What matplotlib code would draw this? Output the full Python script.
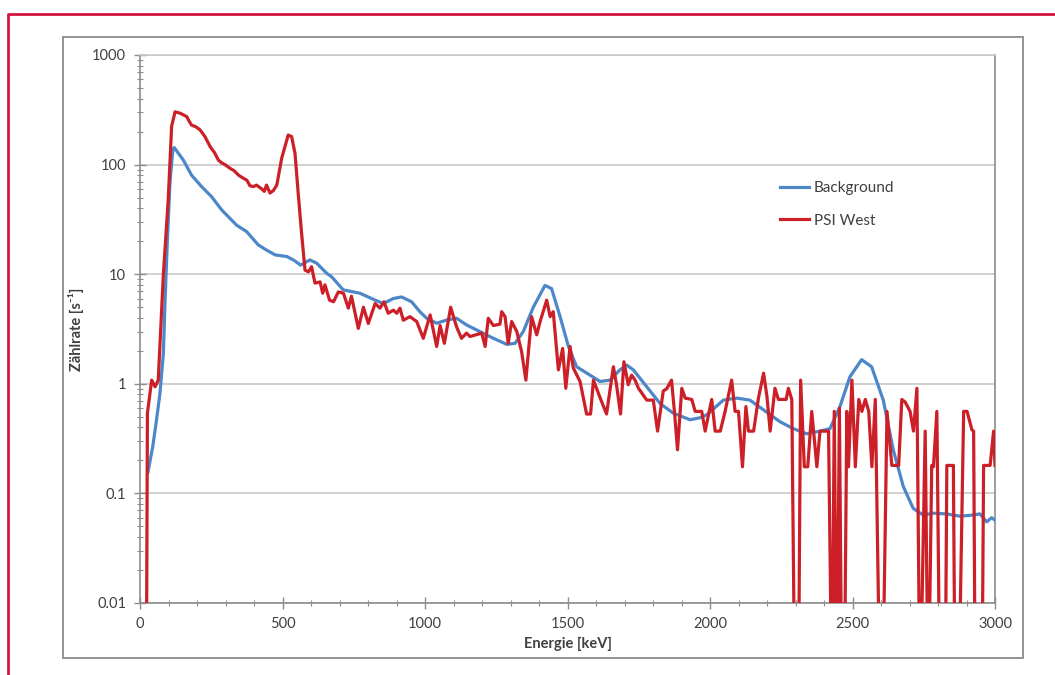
import matplotlib
matplotlib.use("Agg")
import matplotlib.pyplot as plt
from matplotlib.lines import Line2D
from matplotlib.patches import Rectangle
from matplotlib.ticker import FixedLocator, LogLocator, NullFormatter, MultipleLocator

plt.rcParams["font.family"] = ["Lato", "DejaVu Sans"]

# Background spectrum (energy in keV, count rate in 1/s)
bg_energy = [28, 45, 58, 70, 82, 88, 96, 105, 115, 120, 152, 181, 216, 251, 287,
             339, 374, 415, 444, 474, 515, 538, 564, 596, 620, 655, 672, 713, 772,
             825, 854, 889, 918, 953, 982, 1006, 1041, 1076, 1111, 1146, 1193,
             1240, 1287, 1316, 1345, 1380, 1421, 1444, 1474, 1503, 1532, 1579,
             1614, 1649, 1684, 1708, 1731, 1778, 1825, 1871, 1930, 1965, 1988,
             2047, 2094, 2140, 2187, 2246, 2292, 2339, 2386, 2421, 2456, 2491,
             2532, 2567, 2608, 2643, 2678, 2713, 2748, 2783, 2830, 2877, 2912,
             2947, 2971, 2988, 3000]
bg_rate = [0.157, 0.27, 0.47, 0.82, 1.9, 5.8, 20, 68, 135, 143, 110, 80, 63, 51,
           38.5, 28, 24.5, 18.5, 16.6, 15, 14.5, 13.5, 12.1, 13.5, 12.6, 10.2, 9.5,
           7.2, 6.7, 5.8, 5.4, 6.0, 6.2, 5.6, 4.55, 3.96, 3.57, 3.82, 3.96, 3.44,
           2.99, 2.6, 2.29, 2.34, 3.0, 5.0, 7.9, 7.4, 4.1, 2.2, 1.43, 1.2, 1.05,
           1.08, 1.34, 1.48, 1.34, 0.94, 0.66, 0.54, 0.47, 0.49, 0.52, 0.71, 0.74,
           0.71, 0.58, 0.45, 0.39, 0.35, 0.37, 0.39, 0.62, 1.16, 1.66, 1.43, 0.71,
           0.25, 0.116, 0.073, 0.0635, 0.066, 0.065, 0.062, 0.063, 0.065, 0.055,
           0.06, 0.057]

# PSI West spectrum (0.001 = empty bin, drawn off the bottom)
psi_energy = [22, 26, 41, 53, 64, 82, 99, 111, 123, 140, 164, 172, 181, 195, 211,
              228, 246, 262, 275, 286, 298, 316, 330, 346, 363, 375, 386, 398, 409,
              420, 427, 436, 444, 456, 468, 480, 497, 520, 532, 544, 555,
              567, 579, 591, 602, 614, 632, 641, 649, 665, 679, 696, 714, 731, 742,
              766, 784, 801, 825, 842, 856, 871, 889, 901, 912, 924, 947, 971, 994,
              1018, 1041, 1053, 1068, 1090, 1111, 1128, 1146, 1158, 1199, 1211,
              1222, 1240, 1263, 1269, 1281, 1292, 1304, 1322, 1339, 1354, 1374,
              1392, 1404, 1427, 1439, 1450, 1468, 1483, 1494, 1509, 1520, 1544,
              1567, 1581, 1591, 1614, 1637, 1661, 1672, 1686, 1698, 1713, 1725,
              1737, 1749, 1778, 1801, 1816, 1836, 1848, 1865, 1876, 1886, 1901,
              1913, 1936, 1948, 1971, 1983, 2006, 2018, 2036, 2053, 2076, 2088,
              2100, 2114, 2126, 2135, 2153, 2170, 2188, 2200, 2211, 2228, 2240,
              2267, 2275, 2287, 2298, 2310, 2318, 2331, 2343, 2357, 2375, 2386,
              2416, 2428, 2436, 2445, 2454, 2463, 2471, 2480, 2486, 2498, 2510,
              2522, 2533, 2545, 2557, 2568, 2580, 2597, 2605, 2621, 2638, 2662,
              2673, 2685, 2702, 2714, 2726, 2737, 2755, 2766, 2778, 2784, 2796,
              2807, 2825, 2831, 2854, 2860, 2872, 2890, 2902, 2919, 2925, 2931,
              2954, 2960, 2983, 2995, 3000]
psi_rate = [0.001, 0.54, 1.08, 0.94, 1.08, 10, 47.5, 224, 303, 295, 274, 250, 229,
            222, 207, 180, 146, 128, 110, 104, 100, 92.5, 88, 80, 75, 72, 64, 63,
            65, 62, 60, 57, 65, 55, 58, 65, 114, 186, 180, 126,
            55, 23.6, 10.9, 10.5, 11.7, 8.3, 8.5, 6.7, 8.0, 5.8, 5.6, 6.9, 6.7, 4.9,
            6.3, 3.2, 5.0, 3.55, 5.4, 4.9, 5.6, 4.4, 4.7, 4.4, 4.9, 3.8, 4.1, 3.7,
            2.6, 4.25, 2.19, 3.4, 2.34, 5.0, 3.3, 2.6, 2.9, 2.7, 2.9, 2.19, 3.96,
            3.4, 3.5, 4.55, 4.1, 2.34, 3.7, 3.0, 1.96, 1.08, 4.1, 2.8, 3.7, 5.8,
            4.1, 4.55, 1.34, 2.1, 0.91, 2.19, 1.4, 1.05, 0.53, 0.53, 1.08, 0.75,
            0.53, 1.43, 0.98, 0.53, 1.59, 0.98, 1.2, 1.08, 0.91, 0.71, 0.71, 0.37,
            0.86, 0.9, 1.08, 0.53, 0.25, 0.91, 0.74, 0.72, 0.56, 0.56, 0.37, 0.72,
            0.37, 0.37, 0.56, 1.08, 0.56, 0.56, 0.175, 0.62, 0.37, 0.37, 0.74,
            1.25, 0.76, 0.37, 0.91, 0.72, 0.72, 0.91, 0.72, 0.001, 0.001, 1.08,
            0.175, 0.175, 0.56, 0.175, 0.37, 0.37, 0.001, 0.56, 0.001, 0.60, 0.001,
            0.001, 0.56, 0.175, 1.08, 0.175, 0.72, 0.56, 0.72, 0.56, 0.175, 0.72,
            0.001, 0.001, 0.56, 0.18, 0.18, 0.72, 0.68, 0.56, 0.37, 0.91, 0.001,
            0.37, 0.001, 0.18, 0.175, 0.56, 0.001, 0.001, 0.18, 0.18, 0.001, 0.001,
            0.56, 0.56, 0.38, 0.37, 0.001, 0.001, 0.18, 0.18, 0.37, 0.18]

y_ticks = [0.01, 0.1, 1, 10, 100, 1000]
y_tick_labels = ["0.01", "0.1", "1", "10", "100", "1000"]
x_ticks = [0, 500, 1000, 1500, 2000, 2500, 3000]

W, H = 1055, 675
fig = plt.figure(figsize=(W / 100, H / 100), dpi=100)
fig.patch.set_facecolor("white")

# outer red frame (cut off at right and bottom) and grey chart border
fig.add_artist(Line2D([8 / W, 8 / W, 1.0], [0.0, 1 - 14 / H, 1 - 14 / H],
                      transform=fig.transFigure, color="#D2163E", lw=2.0))
fig.add_artist(Rectangle((63 / W, 1 - 658 / H), 960 / W, 621 / H,
                         transform=fig.transFigure, fill=False,
                         edgecolor="#8a8a8a", lw=1.3))

ax = fig.add_axes([140 / W, 1 - 603 / H, 855 / W, 548 / H])
ax.set_yscale("log")
ax.set_xlim(0, 3000)
ax.set_ylim(0.01, 1000)

ax.plot(bg_energy, bg_rate, color="#4C87C9", lw=2.3, label="Background",
        solid_joinstyle="round", zorder=3)
ax.plot(psi_energy, psi_rate, color="#CC1F27", lw=2.3, label="PSI West",
        solid_joinstyle="round", zorder=4)

ax.yaxis.set_major_locator(FixedLocator(y_ticks))
ax.set_yticklabels(y_tick_labels)
ax.yaxis.set_minor_locator(LogLocator(base=10, subs=range(2, 10)))
ax.yaxis.set_minor_formatter(NullFormatter())
ax.set_xticks(x_ticks)
ax.xaxis.set_minor_locator(MultipleLocator(100))

ax.grid(True, which="major", axis="y", color="#c8c8c8", lw=1.2)
ax.set_axisbelow(True)

for side in ["left", "bottom", "right"]:
    ax.spines[side].set_color("#8c8c8c")
    ax.spines[side].set_linewidth(1.2)
ax.spines["top"].set_color("#c8c8c8")
ax.spines["top"].set_linewidth(1.2)

ax.tick_params(axis="both", which="major", direction="inout", length=8,
               width=1.0, color="#8c8c8c", labelsize=10.5, labelcolor="#404040")
ax.tick_params(axis="both", which="minor", direction="inout", length=4,
               width=0.8, color="#8c8c8c")
ax.tick_params(axis="x", which="major", pad=6)
ax.tick_params(axis="y", which="major", pad=6)

ax.set_xlabel("Energie [keV]", fontsize=10.5, fontweight="bold",
              color="#404040", labelpad=4)
ax.set_ylabel("Zählrate [s⁻¹]", fontsize=10.5, fontweight="bold",
              color="#404040", labelpad=6)

ax.legend(loc="center left", bbox_to_anchor=(0.733, 0.727), frameon=False,
          fontsize=11, handlelength=1.9, handletextpad=0.3, labelspacing=1.2,
          labelcolor="#404040")

fig.savefig("out.png", dpi=100, facecolor="white")
